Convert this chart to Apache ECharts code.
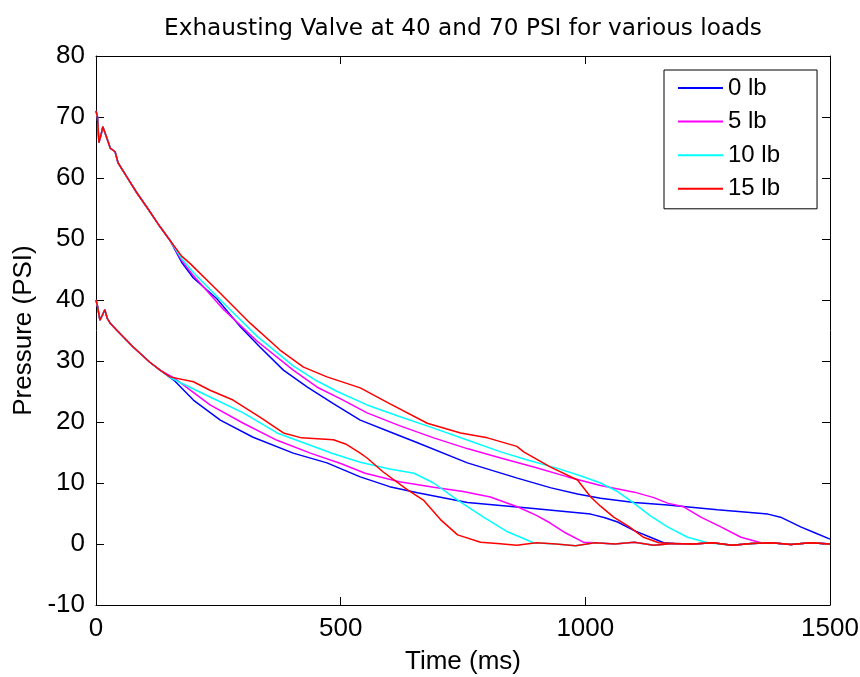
<!DOCTYPE html>
<html><head><meta charset="utf-8">
<script src="https://cdn.jsdelivr.net/npm/echarts@6/dist/echarts.min.js"></script>
<style>html,body{margin:0;padding:0;background:#fff}#c{width:860px;height:677px}</style>
</head><body><div id="c"></div>
<script>
// ---- data (time ms, pressure PSI) ----
const loads = ['0 lb', '5 lb', '10 lb', '15 lb'];
const colors = ['#0000ff', '#ff00ff', '#00ffff', '#ff0000'];
const xTicks = [0, 500, 1000, 1500];
const yTicks = [-10, 0, 10, 20, 30, 40, 50, 60, 70, 80];

// shared initial transients
const start70 = [[0,71],[3,70],[6,65.8],[10,67],[14,68.4],[18,68.6],[22,66.6],[29,64.9],[39,64.3],[45,62.5],[63,60.2],[84,57.5],[104,55.2],[131,52],[151,49.8]];
const start40 = [[0,40],[3,39],[8,36.7],[13,37.5],[18,38.4],[23,37],[29,36.2],[43,35],[76,32.3],[110,29.8],[131,28.5]];

// 70 PSI decays
const blue70 = [[175,46.2],[199,43.6],[247,40.2],[295,35.6],[335,32.3],[383,28.5],[432,25.7],[485,23],[540,20.3],[600,18.4],[657,16.6],[759,13.3],[861,10.8],[930,9.2],[984,8.2],[1031,7.5],[1100,6.8],[1168,6.4],[1270,5.6],[1373,4.9],[1399,4.4],[1440,2.8],[1470,1.8],[1500,0.8]];
const magenta70 = [[175,46.5],[199,44],[260,38.5],[330,33.2],[403,28.5],[452,25.7],[500,23.8],[554,21.5],[620,19.4],[690,17.4],[760,15.6],[827,14.1],[900,12.5],[964,11],[1031,9.6],[1100,8.5],[1140,7.6],[1168,6.7],[1201,6.1],[1236,4.4],[1277,2.8],[1318,1.1],[1359,0.2]];
const cyan70 = [[175,46.8],[199,44.5],[268,38.9],[330,34],[403,29.2],[450,26.8],[493,25],[554,22.8],[620,20.9],[690,19],[760,17],[827,15.1],[880,13.8],[943,12.4],[990,11.2],[1031,10],[1066,8.6],[1099,6.7],[1133,4.6],[1168,2.8],[1209,1.1],[1250,0.2]];
const red70 = [[175,47.2],[192,46],[254,41.1],[315,36.2],[376,31.8],[424,29],[472,27.4],[540,25.6],[600,23],[677,19.8],[745,18.2],[800,17.4],[860,16],[874,15.1],[929,12.6],[984,10.5],[1011,7.7],[1031,6.2],[1058,4.4],[1090,2.8],[1119,1.1],[1150,0.2]];

// 40 PSI decays
const blue40 = [[160,26.8],[199,23.6],[254,20.3],[321,17.5],[403,14.9],[472,13.3],[540,11],[600,9.4],[657,8.4],[759,6.8],[894,5.8],[1011,4.9],[1040,4.3],[1066,3.6],[1100,2.2],[1133,1.1],[1160,0.2]];
const magenta40 = [[160,27.2],[233,22.8],[301,19.8],[370,17],[438,14.9],[500,13.2],[550,11.6],[620,10.2],[690,9.3],[750,8.6],[806,7.7],[861,6.1],[900,4.7],[929,3.4],[960,1.8],[996,0.3]];
const cyan40 = [[151,27.3],[233,24.1],[301,21.5],[370,18.2],[438,16.2],[485,14.8],[540,13.4],[600,12.3],[650,11.6],[690,10],[739,7.2],[792,4.4],[841,2],[894,0.2]];
const red40 = [[151,27.4],[199,26.6],[233,25.2],[280,23.6],[335,20.8],[383,18.2],[420,17.4],[485,17.1],[510,16.4],[540,14.9],[554,14.1],[587,11.8],[636,8.9],[669,7.2],[704,4],[739,1.5],[786,0.3]];

// noisy floor near 0 PSI after the valve is fully exhausted
const floor = [[820,0.1],[860,-0.2],[900,0.2],[940,0],[980,-0.3],[1020,0.2],[1060,0],[1100,0.3],[1140,-0.2],[1180,0.1],[1220,0],[1260,0.2],[1300,-0.2],[1340,0.1],[1380,0.2],[1420,-0.1],[1460,0.2],[1500,0]];

function withFloor(pts) {
  const end = pts[pts.length - 1][0];
  return pts.concat(floor.filter(p => p[0] > end + 15));
}

const curves = [
  {load: 0, data: start70.concat(blue70)},
  {load: 0, data: withFloor(start40.concat(blue40))},
  {load: 1, data: withFloor(start70.concat(magenta70))},
  {load: 1, data: withFloor(start40.concat(magenta40))},
  {load: 2, data: withFloor(start70.concat(cyan70))},
  {load: 2, data: withFloor(start40.concat(cyan40))},
  {load: 3, data: withFloor(start70.concat(red70))},
  {load: 3, data: withFloor(start40.concat(red40))}
];

const FONT = 'Liberation Sans, Arial, sans-serif';
const axisLine = {show: true, onZero: false, lineStyle: {color: '#000', width: 1}};
const axisTick = {show: true, inside: true, length: 8, lineStyle: {color: '#000', width: 1}};

const chart = echarts.init(document.getElementById('c'), null, {renderer: 'canvas'});
chart.setOption({
  animation: false,
  backgroundColor: '#fff',
  title: {
    text: 'Exhausting Valve at 40 and 70 PSI for various loads',
    left: 463, top: 17, textAlign: 'center', padding: 0,
    textStyle: {fontFamily: 'DejaVu Sans', fontSize: 23.2, fontWeight: 'normal', color: '#000'}
  },
  grid: {left: 96, right: 30, top: 56, bottom: 72, containLabel: false, outerBoundsMode: 'none'},
  legend: {
    data: loads,
    orient: 'vertical', left: 664, top: 70,
    icon: 'rect', itemWidth: 45, itemHeight: 2, itemGap: 9.6, itemTextGap: 15,
    padding: [6, 37, 8, 14],
    borderColor: '#000', borderWidth: 1, backgroundColor: '#fff',
    textStyle: {fontFamily: FONT, fontSize: 24, lineHeight: 23, color: '#000'}
  },
  xAxis: [
    {type: 'value', min: xTicks[0], max: xTicks[xTicks.length - 1], interval: xTicks[1] - xTicks[0],
     position: 'bottom', axisLine, axisTick, splitLine: {show: false},
     axisLabel: {color: '#000', fontFamily: FONT, fontSize: 26, margin: 11, formatter: v => String(v)},
     name: 'Time (ms)', nameLocation: 'middle', nameGap: 44,
     nameTextStyle: {color: '#000', fontFamily: FONT, fontSize: 26}},
    {type: 'value', min: xTicks[0], max: xTicks[xTicks.length - 1], interval: xTicks[1] - xTicks[0],
     position: 'top', axisLine, axisTick, splitLine: {show: false}, axisLabel: {show: false}}
  ],
  yAxis: [
    {type: 'value', min: yTicks[0], max: yTicks[yTicks.length - 1], interval: yTicks[1] - yTicks[0],
     position: 'left', axisLine, axisTick, splitLine: {show: false},
     axisLabel: {color: '#000', fontFamily: FONT, fontSize: 26, margin: 11, formatter: v => String(v)},
     name: 'Pressure (PSI)', nameLocation: 'middle', nameGap: 58,
     nameTextStyle: {color: '#000', fontFamily: FONT, fontSize: 26}},
    {type: 'value', min: yTicks[0], max: yTicks[yTicks.length - 1], interval: yTicks[1] - yTicks[0],
     position: 'right', axisLine, axisTick, splitLine: {show: false}, axisLabel: {show: false}}
  ],
  series: curves.map(c => ({
    name: loads[c.load], type: 'line', xAxisIndex: 0, yAxisIndex: 0,
    data: c.data, showSymbol: false, symbol: 'none',
    color: colors[c.load],
    lineStyle: {color: colors[c.load], width: 1.5},
    emphasis: {disabled: true}, silent: true
  }))
});
</script></body></html>
